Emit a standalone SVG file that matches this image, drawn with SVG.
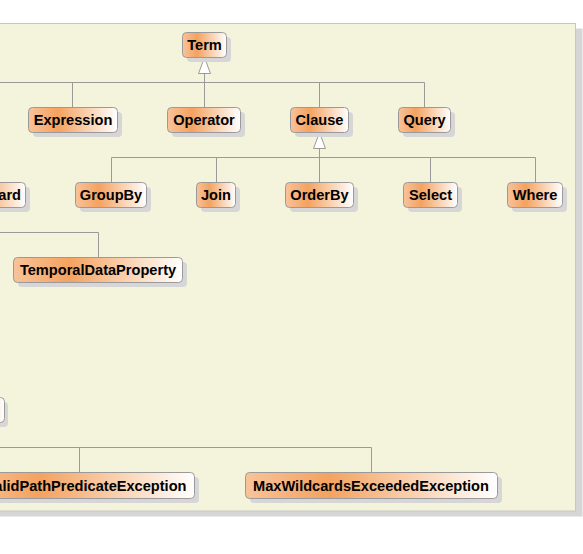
<svg xmlns="http://www.w3.org/2000/svg" width="583" height="554" viewBox="0 0 583 554">
<style>
.n{fill:url(#g);stroke:#9a9a9a;stroke-width:1}
.s{fill:#d6d6d6}
.t{font-family:"Liberation Sans",Arial,sans-serif;font-weight:bold;font-size:14.6px;fill:#000;text-anchor:middle}
.c{fill:none;stroke:#9a9a9a;stroke-width:1}
.a{fill:#fff;stroke:#9a9a9a;stroke-width:1}
</style>
<defs>
<linearGradient id="g" x1="0" y1="0" x2="1" y2="0">
<stop offset="0" stop-color="#F8C39A"/>
<stop offset="0.33" stop-color="#F4A260"/>
<stop offset="1" stop-color="#FFFFFF"/>
</linearGradient>
</defs>
<rect width="583" height="554" fill="#fff"/>
<g id="panel">
<rect x="-10" y="28.5" width="592.5" height="488" fill="#d6d6d6"/>
<rect x="-20" y="23.5" width="595.5" height="487.5" fill="#F4F4DC" stroke="#c6c6c6" stroke-width="1"/>
</g>
<g id="connectors">
<path class="c" d="M0 82.5H424.5V107.5M72.5 82.5V107.5M204.5 73.5V107.5M319.5 82.5V107.5"/>
<polygon class="a" points="204.5,57.5 198.5,73.5 210.5,73.5"/>
<path class="c" d="M111.5 182.5V157.5H535.5V182.5M216.5 157.5V182.5M319.5 148.5V182.5M430.5 157.5V182.5"/>
<polygon class="a" points="319.5,132.5 313.5,148.5 325.5,148.5"/>
<path class="c" d="M0 232.5H98.5V257.5"/>
<path class="c" d="M0 447.5H371.5V472.5M79.5 447.5V472.5"/>
</g>
<g id="Term"><rect class="s" x="187" y="37" width="44" height="25" rx="4"/><rect class="n" x="182.5" y="32.5" width="44" height="25" rx="4"/><text class="t" x="204.5" y="50.3">Term</text></g>
<g id="Expression"><rect class="s" x="33" y="112" width="89" height="25" rx="4"/><rect class="n" x="28.5" y="107.5" width="89" height="25" rx="4"/><text class="t" x="73" y="125.3">Expression</text></g>
<g id="Operator"><rect class="s" x="172" y="112" width="73" height="25" rx="4"/><rect class="n" x="167.5" y="107.5" width="73" height="25" rx="4"/><text class="t" x="204" y="125.3">Operator</text></g>
<g id="Clause"><rect class="s" x="295" y="112" width="58" height="25" rx="4"/><rect class="n" x="290.5" y="107.5" width="58" height="25" rx="4"/><text class="t" x="319.5" y="125.3">Clause</text></g>
<g id="Query"><rect class="s" x="403" y="112" width="52" height="25" rx="4"/><rect class="n" x="398.5" y="107.5" width="52" height="25" rx="4"/><text class="t" x="424.5" y="125.3">Query</text></g>
<g id="Wildcard"><rect class="s" x="-35" y="187" width="65" height="25" rx="4"/><rect class="n" x="-39.5" y="182.5" width="65" height="25" rx="4"/><text class="t" x="21" y="200.3" style="text-anchor:end">ard</text></g>
<g id="GroupBy"><rect class="s" x="80" y="187" width="71" height="25" rx="4"/><rect class="n" x="75.5" y="182.5" width="71" height="25" rx="4"/><text class="t" x="111" y="200.3">GroupBy</text></g>
<g id="Join"><rect class="s" x="201" y="187" width="39" height="25" rx="4"/><rect class="n" x="196.5" y="182.5" width="39" height="25" rx="4"/><text class="t" x="216" y="200.3">Join</text></g>
<g id="OrderBy"><rect class="s" x="290" y="187" width="68" height="25" rx="4"/><rect class="n" x="285.5" y="182.5" width="68" height="25" rx="4"/><text class="t" x="319.5" y="200.3">OrderBy</text></g>
<g id="Select"><rect class="s" x="408" y="187" width="54" height="25" rx="4"/><rect class="n" x="403.5" y="182.5" width="54" height="25" rx="4"/><text class="t" x="430.5" y="200.3">Select</text></g>
<g id="Where"><rect class="s" x="512" y="187" width="55" height="25" rx="4"/><rect class="n" x="507.5" y="182.5" width="55" height="25" rx="4"/><text class="t" x="535" y="200.3">Where</text></g>
<g id="TemporalDataProperty"><rect class="s" x="18" y="262" width="169" height="25" rx="4"/><rect class="n" x="13.5" y="257.5" width="169" height="25" rx="4"/><text class="t" x="98" y="275.3">TemporalDataProperty</text></g>
<g id="LeftNode"><rect class="s" x="-56" y="402" width="64" height="25" rx="4"/><rect class="n" x="-60.5" y="397.5" width="65" height="25" rx="4"/></g>
<g id="InvalidPathPredicateException"><rect class="s" x="-31.5" y="477" width="230.5" height="26" rx="4"/><rect class="n" x="-36" y="472.5" width="230.5" height="26" rx="4"/><text class="t" x="186.5" y="490.8" style="text-anchor:end">alidPathPredicateException</text></g>
<g id="MaxWildcardsExceededException"><rect class="s" x="250" y="477" width="252" height="26" rx="4"/><rect class="n" x="245.5" y="472.5" width="252" height="26" rx="4"/><text class="t" x="371" y="490.8">MaxWildcardsExceededException</text></g>
</svg>
